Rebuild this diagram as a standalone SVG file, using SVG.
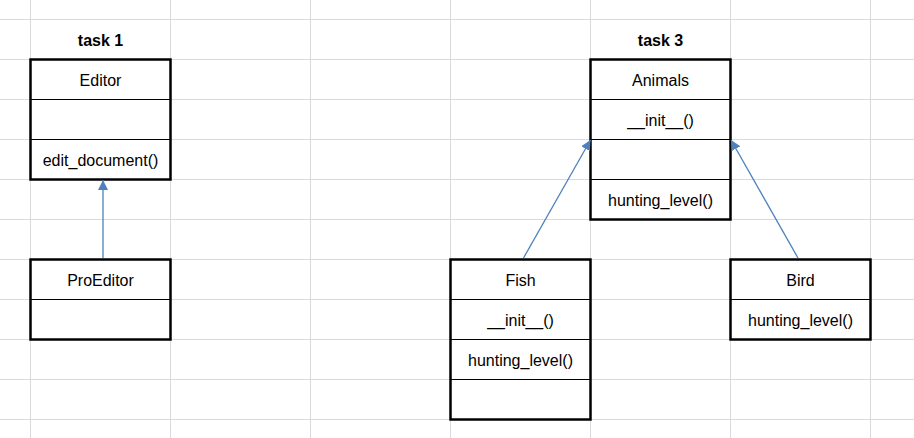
<svg xmlns="http://www.w3.org/2000/svg" width="914" height="438" viewBox="0 0 914 438">
<style>
.grid line{stroke:#dadada;stroke-width:1}
.box{fill:#fff;stroke:#000;stroke-width:2.5}
.div{stroke:#000;stroke-width:1}
text{font-family:"Liberation Sans",Arial,sans-serif;font-size:16px;fill:#000;text-anchor:middle}
.title{font-weight:bold}
.conn line{stroke:#4f81bd;stroke-width:1.3;fill:none}
</style>
<defs>
<marker id="ah" viewBox="0 0 10 10" refX="10" refY="5" markerWidth="10" markerHeight="10" markerUnits="userSpaceOnUse" orient="auto">
<path d="M0,0 L10,5 L0,10 z" fill="#4f81bd"/>
</marker>
</defs>
<rect width="914" height="438" fill="#fff"/>
<g class="grid">
<line x1="30.5" y1="0" x2="30.5" y2="438"/>
<line x1="170.5" y1="0" x2="170.5" y2="438"/>
<line x1="310.5" y1="0" x2="310.5" y2="438"/>
<line x1="450.5" y1="0" x2="450.5" y2="438"/>
<line x1="590.5" y1="0" x2="590.5" y2="438"/>
<line x1="730.5" y1="0" x2="730.5" y2="438"/>
<line x1="870.5" y1="0" x2="870.5" y2="438"/>
<line x1="0" y1="19.5" x2="914" y2="19.5"/>
<line x1="0" y1="59.5" x2="914" y2="59.5"/>
<line x1="0" y1="99.5" x2="914" y2="99.5"/>
<line x1="0" y1="139.5" x2="914" y2="139.5"/>
<line x1="0" y1="179.5" x2="914" y2="179.5"/>
<line x1="0" y1="219.5" x2="914" y2="219.5"/>
<line x1="0" y1="259.5" x2="914" y2="259.5"/>
<line x1="0" y1="299.5" x2="914" y2="299.5"/>
<line x1="0" y1="339.5" x2="914" y2="339.5"/>
<line x1="0" y1="379.5" x2="914" y2="379.5"/>
<line x1="0" y1="419.5" x2="914" y2="419.5"/>
</g>
<text class="title" x="100.5" y="45.5">task 1</text>
<text class="title" x="660.5" y="45.5">task 3</text>
<g id="Editor">
<rect class="box" x="30.5" y="59.5" width="140" height="120"/>
<line class="div" x1="30.5" y1="99.5" x2="170.5" y2="99.5"/>
<line class="div" x1="30.5" y1="139.5" x2="170.5" y2="139.5"/>
<text x="100.5" y="85.5">Editor</text>
<text x="100.5" y="165.5">edit_document()</text>
</g>
<g id="ProEditor">
<rect class="box" x="30.5" y="259.5" width="140" height="80"/>
<line class="div" x1="30.5" y1="299.5" x2="170.5" y2="299.5"/>
<text x="100.5" y="285.5">ProEditor</text>
</g>
<g id="Animals">
<rect class="box" x="590.5" y="59.5" width="140" height="160"/>
<line class="div" x1="590.5" y1="99.5" x2="730.5" y2="99.5"/>
<line class="div" x1="590.5" y1="139.5" x2="730.5" y2="139.5"/>
<line class="div" x1="590.5" y1="179.5" x2="730.5" y2="179.5"/>
<text x="660.5" y="85.5">Animals</text>
<text x="660.5" y="125.5">__init__()</text>
<text x="660.5" y="205.5">hunting_level()</text>
</g>
<g id="Fish">
<rect class="box" x="450.5" y="259.5" width="140" height="160"/>
<line class="div" x1="450.5" y1="299.5" x2="590.5" y2="299.5"/>
<line class="div" x1="450.5" y1="339.5" x2="590.5" y2="339.5"/>
<line class="div" x1="450.5" y1="379.5" x2="590.5" y2="379.5"/>
<text x="520.5" y="285.5">Fish</text>
<text x="520.5" y="325.5">__init__()</text>
<text x="520.5" y="365.5">hunting_level()</text>
</g>
<g id="Bird">
<rect class="box" x="730.5" y="259.5" width="140" height="80"/>
<line class="div" x1="730.5" y1="299.5" x2="870.5" y2="299.5"/>
<text x="800.5" y="285.5">Bird</text>
<text x="800.5" y="325.5">hunting_level()</text>
</g>
<g class="conn">
<line x1="103" y1="258" x2="103" y2="180" marker-end="url(#ah)"/>
<line x1="523.5" y1="258" x2="590.5" y2="140" marker-end="url(#ah)"/>
<line x1="798" y1="258" x2="731" y2="140" marker-end="url(#ah)"/>
</g>
</svg>
